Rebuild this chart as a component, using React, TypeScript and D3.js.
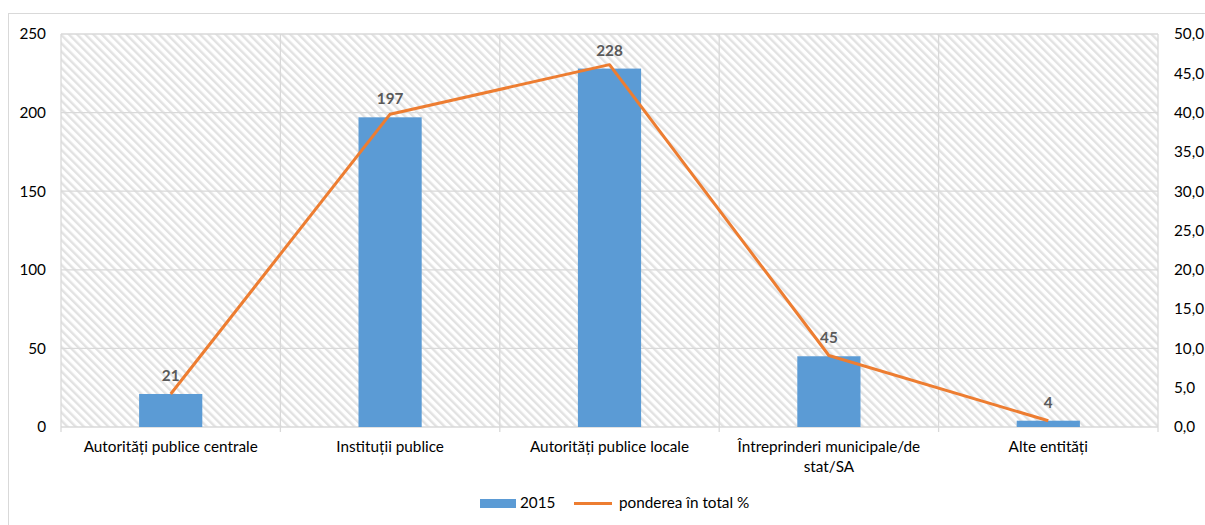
import React from "react";
import * as d3 from "d3";

const categories = [
  "Autorități publice centrale",
  "Instituții publice",
  "Autorități publice locale",
  "Întreprinderi municipale/de stat/SA",
  "Alte entități",
];
const categoryLines = [
  ["Autorități publice centrale"],
  ["Instituții publice"],
  ["Autorități publice locale"],
  ["Întreprinderi municipale/de", "stat/SA"],
  ["Alte entități"],
];
const counts2015 = [21, 197, 228, 45, 4];
const sharePct = [4.2, 39.8, 46.1, 9.1, 0.8];
const leftTicks = [0, 50, 100, 150, 200, 250];
const rightTicks = [0, 5, 10, 15, 20, 25, 30, 35, 40, 45, 50];
const legendBar = "2015";
const legendLine = "ponderea în total %";

const FONT = "Lato, 'Open Sans', sans-serif";
const FS = 15.3;

export default function App() {
  const left = 61, right = 1158, top = 34, bottom = 427;
  const x = d3.scaleBand().domain(categories).range([left, right]).padding(0);
  const yL = d3.scaleLinear().domain([0, 250]).range([bottom, top]);
  const yR = d3.scaleLinear().domain([0, 50]).range([bottom, top]);
  const bw = x.bandwidth() * 0.288;
  const cx = (c: string) => (x(c) as number) + x.bandwidth() / 2;
  const line = d3
    .line<number>()
    .x((_, i) => cx(categories[i]))
    .y((d) => yR(d));
  const boundaries = categories.map((c) => x(c) as number).concat([right]);

  return (
    <svg
      width={1205}
      height={525}
      style={{ position: "absolute", left: 0, top: 0, background: "#fff" }}
    >
      <defs>
        <pattern
          id="hatch"
          width={5.8}
          height={5.8}
          patternUnits="userSpaceOnUse"
          patternTransform="rotate(-45)"
        >
          <rect width={5.8} height={5.8} fill="#ffffff" />
          <rect x={0} y={0} width={2.4} height={5.8} fill="#e2e2e2" />
        </pattern>
      </defs>
      <rect x={8.5} y={13.5} width={1230} height={540} fill="#fff" stroke="#d9d9d9" />
      <rect x={left} y={top} width={right - left} height={bottom - top} fill="url(#hatch)" />
      {leftTicks.map((t) => (
        <line key={"h" + t} x1={left} x2={right} y1={yL(t)} y2={yL(t)} stroke="#d9d9d9" strokeWidth={1.3} />
      ))}
      {boundaries.map((b, i) => (
        <line key={"v" + i} x1={b} x2={b} y1={top} y2={bottom + 5} stroke="#d9d9d9" strokeWidth={1.3} />
      ))}
      {leftTicks.map((t) => (
        <text key={"l" + t} x={46} y={yL(t)} dy="0.35em" textAnchor="end" fontFamily={FONT} fontSize={FS} fill="#000">
          {t}
        </text>
      ))}
      {rightTicks.map((t) => (
        <text key={"r" + t} x={1174} y={yR(t)} dy="0.35em" textAnchor="start" fontFamily={FONT} fontSize={FS} fill="#000">
          {t.toFixed(1).replace(".", ",")}
        </text>
      ))}
      {categories.map((c, i) => (
        <rect key={"b" + i} x={cx(c) - bw / 2} y={yL(counts2015[i])} width={bw} height={bottom - yL(counts2015[i])} fill="#5b9bd5" />
      ))}
      <path d={line(sharePct) || ""} fill="none" stroke="#ed7d31" strokeWidth={3} strokeLinejoin="round" />
      {categories.map((c, i) => (
        <text key={"d" + i} x={cx(c)} y={yL(counts2015[i]) - 13} textAnchor="middle" fontFamily={FONT} fontWeight="bold" fontSize={FS} fill="#595959">
          {counts2015[i]}
        </text>
      ))}
      {categories.map((c, i) => (
        <text key={"c" + i} x={cx(c)} y={452} textAnchor="middle" fontFamily={FONT} fontSize={FS} fill="#000">
          {categoryLines[i].map((ln, j) => (
            <tspan key={j} x={cx(c)} dy={j === 0 ? 0 : 20}>
              {ln}
            </tspan>
          ))}
        </text>
      ))}
      <rect x={480} y={499} width={36} height={9} fill="#5b9bd5" />
      <text x={520} y={508} fontFamily={FONT} fontSize={FS} fill="#000">{legendBar}</text>
      <line x1={574} x2={612} y1={503.5} y2={503.5} stroke="#ed7d31" strokeWidth={3} />
      <text x={619} y={508} fontFamily={FONT} fontSize={FS} fill="#000">{legendLine}</text>
    </svg>
  );
}
